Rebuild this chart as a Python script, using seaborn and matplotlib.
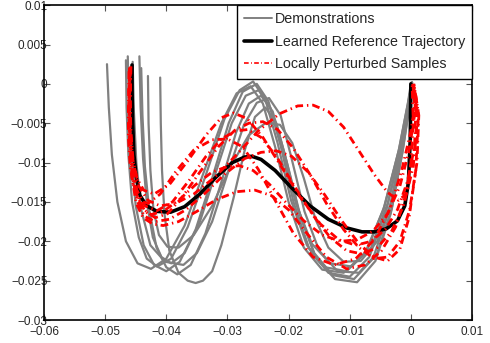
import pandas as pd
import matplotlib
matplotlib.use('Agg')
import matplotlib.pyplot as plt
from matplotlib.lines import Line2D
import seaborn as sns

# Demonstrations (grey)
demo_x = [
    [-0.0497, -0.0494, -0.0489, -0.0480, -0.0466, -0.0447, -0.0425, -0.0400, -0.0370, -0.0340, -0.0310, -0.0285,
     -0.0262, -0.0242, -0.0222, -0.0200, -0.0175, -0.0145, -0.0110, -0.0075, -0.0045, -0.0020, -0.0005, 0.0000],
    [-0.0466, -0.0465, -0.0462, -0.0456, -0.0445, -0.0432, -0.0415, -0.0392, -0.0365, -0.0335, -0.0305, -0.0280,
     -0.0258, -0.0238, -0.0218, -0.0196, -0.0170, -0.0140, -0.0105, -0.0072, -0.0043, -0.0019, -0.0004, 0.0002],
    [-0.0463, -0.0461, -0.0457, -0.0450, -0.0437, -0.0420, -0.0400, -0.0378, -0.0352, -0.0325, -0.0298, -0.0275,
     -0.0252, -0.0233, -0.0213, -0.0192, -0.0166, -0.0135, -0.0100, -0.0068, -0.0040, -0.0017, -0.0003, 0.0001],
    [-0.0444, -0.0442, -0.0438, -0.0432, -0.0422, -0.0408, -0.0392, -0.0370, -0.0345, -0.0318, -0.0293, -0.0270,
     -0.0249, -0.0230, -0.0210, -0.0188, -0.0162, -0.0132, -0.0097, -0.0065, -0.0038, -0.0016, -0.0003, 0.0001],
    [-0.0441, -0.0439, -0.0435, -0.0428, -0.0416, -0.0400, -0.0382, -0.0360, -0.0336, -0.0310, -0.0286, -0.0265,
     -0.0245, -0.0226, -0.0206, -0.0184, -0.0158, -0.0128, -0.0093, -0.0062, -0.0036, -0.0015, -0.0002, 0.0001],
    [-0.0410, -0.0409, -0.0407, -0.0403, -0.0395, -0.0380, -0.0365, -0.0352, -0.0340, -0.0325, -0.0310, -0.0290,
     -0.0272, -0.0255, -0.0238, -0.0220, -0.0201, -0.0180, -0.0155, -0.0124, -0.0088, -0.0058, -0.0033, -0.0014,
     -0.0002, 0.0002],
    [-0.0430, -0.0429, -0.0426, -0.0421, -0.0412, -0.0398, -0.0380, -0.0355, -0.0325, -0.0295, -0.0265, -0.0238,
     -0.0214, -0.0194, -0.0175, -0.0156, -0.0135, -0.0110, -0.0082, -0.0055, -0.0032, -0.0014, -0.0002, 0.0002],
    [-0.0455, -0.0453, -0.0449, -0.0441, -0.0426, -0.0402, -0.0372, -0.0350, -0.0325, -0.0298, -0.0273, -0.0252,
     -0.0232, -0.0213, -0.0195, -0.0174, -0.0150, -0.0120, -0.0085, -0.0055, -0.0031, -0.0013, -0.0001, 0.0002],
]
demo_y = [
    [0.0025, -0.0030, -0.0090, -0.0150, -0.0200, -0.0228, -0.0235, -0.0222, -0.0180, -0.0115, -0.0050, -0.0012,
     -0.0003, -0.0025, -0.0080, -0.0150, -0.0208, -0.0236, -0.0240, -0.0215, -0.0160, -0.0085, -0.0025, 0.0000],
    [0.0030, -0.0030, -0.0090, -0.0150, -0.0195, -0.0222, -0.0232, -0.0222, -0.0182, -0.0115, -0.0045, -0.0008,
     0.0003, -0.0020, -0.0075, -0.0148, -0.0205, -0.0233, -0.0238, -0.0212, -0.0155, -0.0082, -0.0022, 0.0002],
    [0.0035, -0.0030, -0.0095, -0.0155, -0.0205, -0.0230, -0.0238, -0.0226, -0.0185, -0.0120, -0.0050, -0.0010,
     0.0000, -0.0022, -0.0078, -0.0150, -0.0210, -0.0240, -0.0245, -0.0220, -0.0160, -0.0085, -0.0022, 0.0001],
    [0.0035, -0.0030, -0.0095, -0.0150, -0.0195, -0.0220, -0.0228, -0.0215, -0.0175, -0.0110, -0.0050, -0.0015,
     -0.0008, -0.0030, -0.0085, -0.0152, -0.0203, -0.0228, -0.0232, -0.0208, -0.0152, -0.0080, -0.0020, 0.0002],
    [0.0020, -0.0040, -0.0105, -0.0160, -0.0208, -0.0233, -0.0242, -0.0230, -0.0190, -0.0125, -0.0062, -0.0025,
     -0.0015, -0.0035, -0.0090, -0.0160, -0.0215, -0.0243, -0.0248, -0.0222, -0.0162, -0.0085, -0.0022, 0.0000],
    [0.0008, -0.0050, -0.0110, -0.0165, -0.0212, -0.0240, -0.0250, -0.0253, -0.0250, -0.0238, -0.0205, -0.0145,
     -0.0085, -0.0042, -0.0030, -0.0050, -0.0105, -0.0170, -0.0222, -0.0248, -0.0252, -0.0225, -0.0165, -0.0088,
     -0.0025, 0.0001],
    [0.0010, -0.0050, -0.0110, -0.0160, -0.0192, -0.0207, -0.0208, -0.0192, -0.0155, -0.0105, -0.0065, -0.0050,
     -0.0052, -0.0075, -0.0120, -0.0172, -0.0208, -0.0226, -0.0225, -0.0200, -0.0150, -0.0080, -0.0022, 0.0002],
    [0.0028, -0.0035, -0.0100, -0.0160, -0.0205, -0.0226, -0.0230, -0.0215, -0.0175, -0.0110, -0.0052, -0.0024,
     -0.0018, -0.0040, -0.0095, -0.0162, -0.0212, -0.0238, -0.0240, -0.0215, -0.0158, -0.0083, -0.0022, 0.0000],
]

# Learned reference trajectory (black)
ref_x = [-0.0456, -0.0456, -0.0455, -0.0453, -0.0449, -0.0443, -0.0432, -0.0415, -0.0393, -0.0370, -0.0345,
         -0.0318, -0.0292, -0.0272, -0.0260, -0.0245, -0.0222, -0.0195, -0.0165, -0.0135, -0.0105, -0.0080,
         -0.0060, -0.0040, -0.0022, -0.0010, -0.0004, -0.0001, 0.0000]
ref_y = [0.0024, -0.0010, -0.0050, -0.0090, -0.0120, -0.0142, -0.0155, -0.0162, -0.0163, -0.0156, -0.0140,
         -0.0118, -0.0100, -0.0093, -0.0092, -0.0096, -0.0110, -0.0132, -0.0155, -0.0172, -0.0183, -0.0188,
         -0.0188, -0.0184, -0.0174, -0.0155, -0.0125, -0.0070, 0.0000]

# Locally perturbed samples (red)
pert_x = [
    [-0.0458, -0.0459, -0.0458, -0.0454, -0.0445, -0.0430, -0.0410, -0.0385, -0.0355, -0.0320, -0.0285, -0.0250,
     -0.0215, -0.0185, -0.0160, -0.0135, -0.0110, -0.0085, -0.0060, -0.0038, -0.0020, -0.0008, 0.0000, 0.0004, 0.0002],
    [-0.0459, -0.0460, -0.0459, -0.0455, -0.0448, -0.0437, -0.0420, -0.0395, -0.0365, -0.0335, -0.0310, -0.0290,
     -0.0268, -0.0242, -0.0212, -0.0180, -0.0148, -0.0118, -0.0090, -0.0065, -0.0042, -0.0022, -0.0006, 0.0006,
     0.0008, 0.0003],
    [-0.0460, -0.0461, -0.0460, -0.0456, -0.0448, -0.0435, -0.0415, -0.0390, -0.0362, -0.0335, -0.0310, -0.0287,
     -0.0267, -0.0245, -0.0220, -0.0192, -0.0162, -0.0132, -0.0105, -0.0080, -0.0055, -0.0032, -0.0012, 0.0004,
     0.0010, 0.0004],
    [-0.0461, -0.0462, -0.0462, -0.0459, -0.0453, -0.0444, -0.0430, -0.0410, -0.0385, -0.0355, -0.0325, -0.0300,
     -0.0275, -0.0250, -0.0222, -0.0192, -0.0160, -0.0125, -0.0090, -0.0060, -0.0035, -0.0015, 0.0000, 0.0008, 0.0004],
    [-0.0460, -0.0461, -0.0460, -0.0456, -0.0449, -0.0438, -0.0422, -0.0405, -0.0380, -0.0350, -0.0318, -0.0285,
     -0.0255, -0.0228, -0.0200, -0.0170, -0.0138, -0.0105, -0.0075, -0.0048, -0.0025, -0.0008, 0.0006, 0.0012, 0.0005],
    [-0.0459, -0.0460, -0.0459, -0.0455, -0.0447, -0.0435, -0.0418, -0.0398, -0.0375, -0.0345, -0.0315, -0.0288,
     -0.0265, -0.0242, -0.0218, -0.0192, -0.0165, -0.0138, -0.0110, -0.0085, -0.0060, -0.0038, -0.0018, -0.0002,
     0.0010, 0.0013, 0.0005],
    [-0.0460, -0.0461, -0.0460, -0.0456, -0.0448, -0.0436, -0.0418, -0.0395, -0.0368, -0.0338, -0.0305, -0.0272,
     -0.0245, -0.0220, -0.0195, -0.0168, -0.0140, -0.0112, -0.0085, -0.0060, -0.0038, -0.0018, -0.0003, 0.0008,
     0.0012, 0.0004],
    [-0.0458, -0.0459, -0.0458, -0.0455, -0.0449, -0.0440, -0.0425, -0.0405, -0.0380, -0.0352, -0.0325, -0.0300,
     -0.0280, -0.0258, -0.0232, -0.0205, -0.0175, -0.0145, -0.0115, -0.0088, -0.0062, -0.0038, -0.0018, -0.0003,
     0.0007, 0.0003],
]
pert_y = [
    [0.0022, -0.0020, -0.0060, -0.0100, -0.0130, -0.0148, -0.0155, -0.0152, -0.0140, -0.0118, -0.0090, -0.0060,
     -0.0038, -0.0028, -0.0027, -0.0035, -0.0055, -0.0085, -0.0115, -0.0138, -0.0148, -0.0140, -0.0100, -0.0050, 0.0000],
    [0.0018, -0.0020, -0.0060, -0.0095, -0.0120, -0.0135, -0.0140, -0.0128, -0.0098, -0.0065, -0.0043, -0.0037,
     -0.0044, -0.0068, -0.0105, -0.0145, -0.0178, -0.0198, -0.0205, -0.0200, -0.0185, -0.0160, -0.0125, -0.0080,
     -0.0035, 0.0000],
    [0.0020, -0.0020, -0.0065, -0.0105, -0.0135, -0.0155, -0.0161, -0.0150, -0.0122, -0.0092, -0.0070, -0.0060,
     -0.0058, -0.0068, -0.0092, -0.0128, -0.0165, -0.0195, -0.0212, -0.0216, -0.0208, -0.0188, -0.0155, -0.0105,
     -0.0045, 0.0000],
    [0.0016, -0.0025, -0.0068, -0.0105, -0.0133, -0.0148, -0.0152, -0.0140, -0.0112, -0.0084, -0.0071, -0.0070,
     -0.0080, -0.0108, -0.0148, -0.0190, -0.0220, -0.0230, -0.0222, -0.0198, -0.0160, -0.0110, -0.0060, -0.0020, 0.0000],
    [0.0018, -0.0025, -0.0075, -0.0120, -0.0152, -0.0170, -0.0178, -0.0180, -0.0175, -0.0162, -0.0147, -0.0137,
     -0.0135, -0.0142, -0.0160, -0.0190, -0.0220, -0.0235, -0.0230, -0.0212, -0.0182, -0.0140, -0.0085, -0.0035, 0.0000],
    [0.0020, -0.0022, -0.0068, -0.0110, -0.0142, -0.0162, -0.0170, -0.0165, -0.0145, -0.0112, -0.0080, -0.0059,
     -0.0050, -0.0048, -0.0058, -0.0082, -0.0115, -0.0152, -0.0185, -0.0208, -0.0222, -0.0220, -0.0200, -0.0160,
     -0.0100, -0.0040, 0.0000],
    [0.0021, -0.0023, -0.0072, -0.0115, -0.0148, -0.0168, -0.0175, -0.0172, -0.0160, -0.0140, -0.0115, -0.0095,
     -0.0087, -0.0085, -0.0092, -0.0112, -0.0142, -0.0175, -0.0203, -0.0220, -0.0225, -0.0210, -0.0170, -0.0110,
     -0.0045, 0.0000],
    [0.0022, -0.0020, -0.0065, -0.0108, -0.0140, -0.0158, -0.0166, -0.0162, -0.0148, -0.0128, -0.0112, -0.0105,
     -0.0104, -0.0110, -0.0127, -0.0150, -0.0174, -0.0192, -0.0200, -0.0198, -0.0187, -0.0165, -0.0130, -0.0085,
     -0.0035, 0.0000],
]

xticks = [-0.06, -0.05, -0.04, -0.03, -0.02, -0.01, 0.0, 0.01]
xtick_labels = ['\u22120.06', '\u22120.05', '\u22120.04', '\u22120.03', '\u22120.02', '\u22120.01', '0', '0.01']
yticks = [0.01, 0.005, 0.0, -0.005, -0.01, -0.015, -0.02, -0.025, -0.03]
ytick_labels = ['0.01', '0.005', '0', '\u22120.005', '\u22120.01', '\u22120.015', '\u22120.02', '\u22120.025', '\u22120.03']


def to_long(xs_list, ys_list):
    rows = []
    for i, (xs, ys) in enumerate(zip(xs_list, ys_list)):
        for j, (x, y) in enumerate(zip(xs, ys)):
            rows.append({'curve': i, 'order': j, 'x': x, 'y': y})
    return pd.DataFrame(rows)


demo_df = to_long(demo_x, demo_y)
ref_df = to_long([ref_x], [ref_y])
pert_df = to_long(pert_x, pert_y)

sns.set_style('ticks')
plt.rcParams['font.family'] = ['Liberation Sans', 'DejaVu Sans']

fig = plt.figure(figsize=(4.9, 3.43), dpi=100)
ax = fig.add_axes([0.0898, 0.067, 0.8735, 0.918])

red_dash = (0, (2.8, 1.4, 0.5, 1.4))
sns.lineplot(data=demo_df, x='x', y='y', units='curve', estimator=None, sort=False,
             color='#808080', linewidth=1.6, ax=ax)
sns.lineplot(data=ref_df, x='x', y='y', units='curve', estimator=None, sort=False,
             color='black', linewidth=2.6, ax=ax)
sns.lineplot(data=pert_df, x='x', y='y', units='curve', estimator=None, sort=False,
             color='red', linewidth=2.0, linestyle=red_dash, ax=ax)

ax.set_xlim(-0.06, 0.01)
ax.set_ylim(-0.03, 0.01)
ax.set_xticks(xticks)
ax.set_xticklabels(xtick_labels)
ax.set_yticks(yticks)
ax.set_yticklabels(ytick_labels)
ax.set_xlabel('')
ax.set_ylabel('')
ax.tick_params(direction='in', top=True, right=True, length=4, width=0.8, labelsize=8.5, color='#555555')
ax.tick_params(axis='y', pad=-2.5)
ax.tick_params(axis='x', pad=4)
for s in ax.spines.values():
    s.set_visible(True)
    s.set_color('black')
    s.set_linewidth(1.2)

handles = [
    Line2D([], [], color='#808080', linewidth=1.4),
    Line2D([], [], color='black', linewidth=2.6),
    Line2D([], [], color='red', linewidth=1.2, linestyle=red_dash),
]
labels = ['Demonstrations', 'Learned Reference Trajectory', 'Locally Perturbed Samples']
leg = ax.legend(handles, labels, loc='upper right', borderaxespad=0, fontsize=10.3, fancybox=False,
                framealpha=1, edgecolor='black', handlelength=2.0, handletextpad=0.15, labelspacing=0.6,
                borderpad=0.5)
leg.get_frame().set_linewidth(1.0)

fig.savefig('out.png', dpi=100)
